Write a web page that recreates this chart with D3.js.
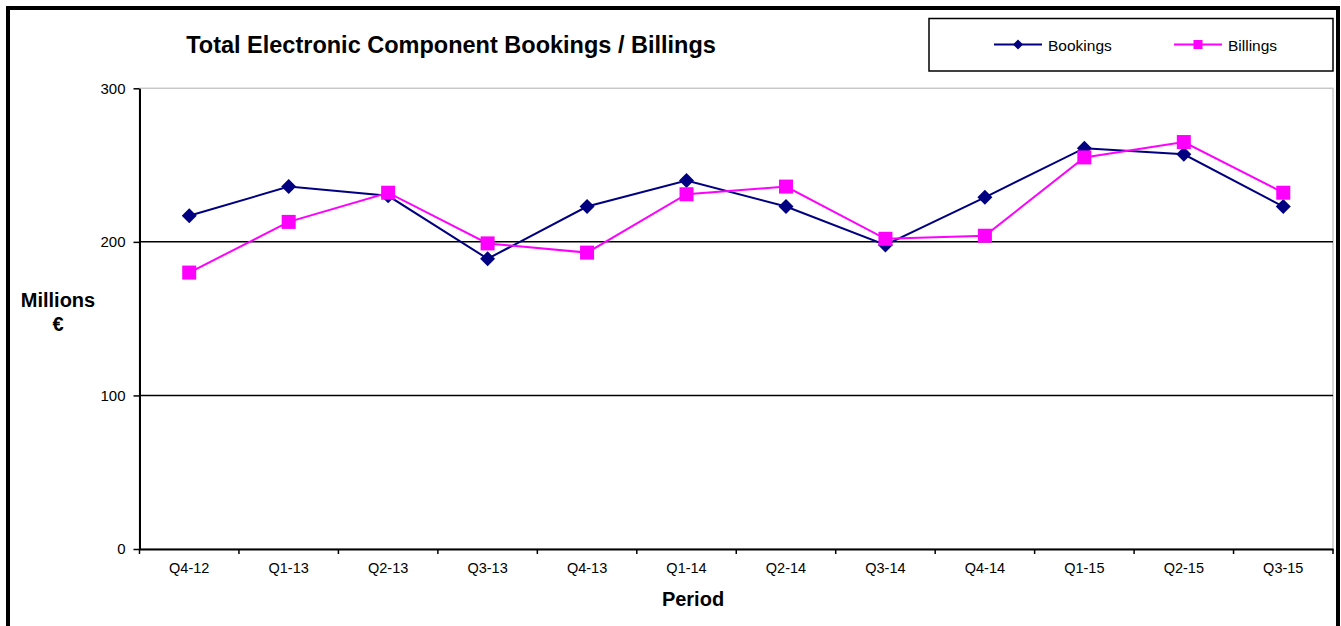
<!DOCTYPE html>
<html><head><meta charset="utf-8">
<script src="https://cdn.jsdelivr.net/npm/d3@7"></script>
<style>html,body{margin:0;padding:0;background:#fff;}svg{display:block;font-family:Arial,"Liberation Sans",sans-serif;}</style>
</head><body>
<svg id="c" width="1341" height="626"></svg>
<script>
const categories = ["Q4-12","Q1-13","Q2-13","Q3-13","Q4-13","Q1-14","Q2-14","Q3-14","Q4-14","Q1-15","Q2-15","Q3-15"];
const bookings = [217, 236, 230, 189, 223, 240, 223, 198, 229, 261, 257, 223];
const billings = [180, 213, 232, 199, 193, 231, 236, 202, 204, 255, 265, 232];
const yTicks = [0, 100, 200, 300];
const seriesNames = ["Bookings", "Billings"];

const svg = d3.select("#c");
const L = 139.5, R = 1333, T = 88.3, B = 549;
const x = d3.scaleBand().domain(categories).range([L, R]);
const y = d3.scaleLinear().domain([0, 300]).range([B, T]);

// outer frame
svg.append("rect").attr("x", 8).attr("y", 8).attr("width", 1330).attr("height", 640)
  .attr("fill", "none").attr("stroke", "#000").attr("stroke-width", 4);

// plot area border (light grey)
svg.append("rect").attr("x", L).attr("y", T).attr("width", R - L).attr("height", B - T)
  .attr("fill", "none").attr("stroke", "#c8c8c8").attr("stroke-width", 1.5);

// gridlines
svg.append("g").selectAll("line").data(yTicks.filter(d => d > 0 && d < 300)).join("line")
  .attr("x1", L).attr("x2", R).attr("y1", d => y(d)).attr("y2", d => y(d))
  .attr("stroke", "#000").attr("stroke-width", 1.5);

// y axis
const yAxis = svg.append("g").attr("transform", `translate(${L},0)`)
  .call(d3.axisLeft(y).tickValues(yTicks).tickSize(6).tickPadding(8).tickSizeOuter(0));
yAxis.select(".domain").attr("stroke", "#000").attr("stroke-width", 2);
yAxis.selectAll(".tick line").attr("stroke", "#000").attr("stroke-width", 1.5);
yAxis.selectAll(".tick text").attr("font-size", 15).attr("fill", "#000")
  .attr("font-family", "Arial, 'Liberation Sans', sans-serif");

// x axis
const xAxis = svg.append("g").attr("transform", `translate(0,${B})`)
  .call(d3.axisBottom(x).tickSize(0).tickPadding(14));
xAxis.select(".domain").attr("stroke", "#000").attr("stroke-width", 2);
xAxis.selectAll(".tick text").attr("font-size", 14.5).attr("fill", "#000")
  .attr("font-family", "Arial, 'Liberation Sans', sans-serif");
// boundary ticks between categories
const bounds = categories.map(c => x(c)).concat([R]);
svg.append("g").selectAll("line").data(bounds).join("line")
  .attr("x1", d => d).attr("x2", d => d).attr("y1", B).attr("y2", B + 5)
  .attr("stroke", "#000").attr("stroke-width", 1.5);

const cx = c => x(c) + x.bandwidth() / 2;
const line = d3.line().x((d, i) => cx(categories[i])).y(d => y(d));

const diamond = d3.symbol().type(d3.symbolDiamond2 || d3.symbolDiamond);
function diamondPath(s) { return `M0,${-s}L${s},0L0,${s}L${-s},0Z`; }

// Bookings
svg.append("path").datum(bookings).attr("d", line).attr("fill", "none")
  .attr("stroke", "#000080").attr("stroke-width", 2);
svg.append("g").selectAll("path").data(bookings).join("path")
  .attr("transform", (d, i) => `translate(${cx(categories[i])},${y(d)})`)
  .attr("d", diamondPath(7.5)).attr("fill", "#000080");

// Billings
svg.append("path").datum(billings).attr("d", line).attr("fill", "none")
  .attr("stroke", "#ff00ff").attr("stroke-width", 2);
svg.append("g").selectAll("rect").data(billings).join("rect")
  .attr("x", (d, i) => cx(categories[i]) - 7).attr("y", d => y(d) - 7)
  .attr("width", 14).attr("height", 14).attr("fill", "#ff00ff");

// title
svg.append("text").attr("x", 451).attr("y", 53).attr("text-anchor", "middle")
  .attr("font-size", 23.5).attr("font-weight", "bold").text("Total Electronic Component Bookings / Billings");

// y axis title
const yt = svg.append("text").attr("text-anchor", "middle").attr("font-size", 20).attr("font-weight", "bold");
yt.append("tspan").attr("x", 58).attr("y", 307).text("Millions");
yt.append("tspan").attr("x", 58).attr("y", 331).text("€");

// x axis title
svg.append("text").attr("x", 693).attr("y", 606).attr("text-anchor", "middle")
  .attr("font-size", 20).attr("font-weight", "bold").text("Period");

// legend
const lg = svg.append("g");
lg.append("rect").attr("x", 929).attr("y", 18.5).attr("width", 404).attr("height", 52.5)
  .attr("fill", "#fff").attr("stroke", "#000").attr("stroke-width", 1.5);
const legendItems = [
  {name: seriesNames[0], color: "#000080", shape: "diamond", x0: 994},
  {name: seriesNames[1], color: "#ff00ff", shape: "square", x0: 1174}
];
legendItems.forEach(it => {
  lg.append("line").attr("x1", it.x0).attr("x2", it.x0 + 48).attr("y1", 44.5).attr("y2", 44.5)
    .attr("stroke", it.color).attr("stroke-width", 2);
  if (it.shape === "diamond") {
    lg.append("path").attr("transform", `translate(${it.x0 + 24},44.5)`).attr("d", diamondPath(5)).attr("fill", it.color);
  } else {
    lg.append("rect").attr("x", it.x0 + 24 - 4.5).attr("y", 40).attr("width", 9).attr("height", 9).attr("fill", it.color);
  }
  lg.append("text").attr("x", it.x0 + 54).attr("y", 50.5).attr("font-size", 15.5).text(it.name);
});
</script>
</body></html>
